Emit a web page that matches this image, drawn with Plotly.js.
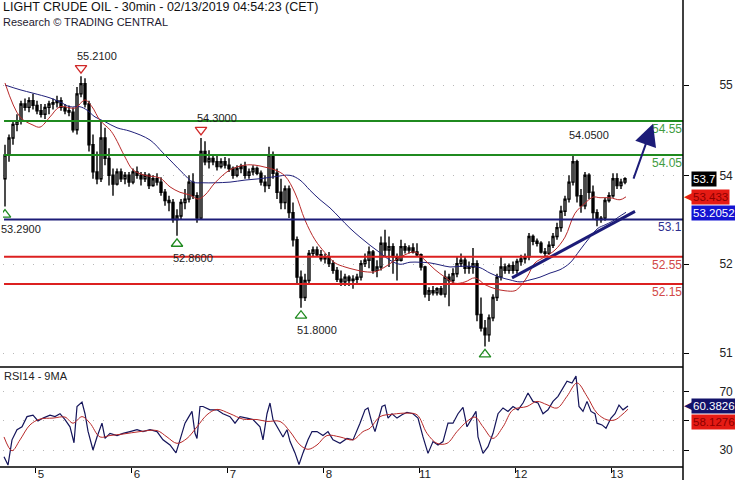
<!DOCTYPE html>
<html><head><meta charset="utf-8">
<script src="https://cdn.plot.ly/plotly-3.0.1.min.js"></script>
<style>html,body{margin:0;padding:0;background:#fff}#chart{width:735px;height:480px}</style>
</head><body><div id="chart"></div>
<script>
// ---------- DATA (hourly bars) ----------
const barOpen = [53.70,54.05,54.30,54.50,54.55,54.80,54.75,54.85,54.78,54.70,54.65,54.75,54.80,54.82,54.85,54.75,54.70,54.68,54.42,54.95,55.10,54.80,54.20,53.80,53.70,54.30,54.00,53.75,53.62,53.80,53.70,53.75,53.65,53.80,53.75,53.70,53.75,53.60,53.70,53.65,53.50,53.38,53.35,53.10,53.15,53.35,53.40,53.65,53.45,53.12,54.10,53.95,54.00,53.95,53.88,53.95,53.90,53.85,53.75,53.85,53.88,53.75,53.80,53.85,53.78,53.65,53.60,54.05,53.78,53.50,53.35,53.55,53.20,52.80,52.25,51.95,52.20,52.60,52.65,52.58,52.52,52.55,52.45,52.35,52.22,52.18,52.25,52.20,52.22,52.25,52.45,52.50,52.62,52.35,52.40,52.75,52.65,52.70,52.55,52.50,52.70,52.65,52.68,52.62,52.58,52.40,52.00,52.05,52.02,52.08,52.00,52.25,52.20,52.30,52.45,52.50,52.38,52.40,52.45,51.70,51.50,51.40,51.65,51.95,52.25,52.40,52.35,52.42,52.35,52.48,52.52,52.55,52.85,52.78,52.75,52.62,52.60,52.72,52.85,52.98,53.22,53.40,53.65,53.95,53.45,53.30,53.75,53.50,53.20,53.10,53.12,53.38,53.45,53.70,53.60,53.65];
const barHigh = [54.20,54.35,54.55,54.65,54.85,54.88,54.90,54.95,54.85,54.80,54.80,54.85,54.88,54.92,54.90,54.80,54.78,54.75,55.05,55.21,55.18,54.85,54.35,54.10,54.55,54.45,54.15,53.85,53.85,53.85,53.80,53.80,53.85,53.88,53.80,53.80,53.78,53.75,53.78,53.72,53.55,53.45,53.40,53.25,53.40,53.55,53.75,53.78,53.50,54.30,54.25,54.12,54.05,54.05,54.00,54.02,54.00,53.88,53.90,53.92,53.95,53.85,53.90,53.88,53.82,53.75,54.17,54.10,53.85,53.70,53.60,53.60,53.35,52.85,52.35,52.30,52.65,52.70,52.70,52.65,52.60,52.62,52.50,52.40,52.35,52.30,52.28,52.28,52.30,52.50,52.60,52.70,52.65,52.50,52.85,52.95,52.85,52.75,52.60,52.80,52.75,52.72,52.75,52.75,52.60,52.42,52.10,52.12,52.10,52.12,52.35,52.30,52.38,52.55,52.60,52.55,52.48,52.68,52.50,51.95,51.62,51.70,52.00,52.30,52.55,52.45,52.45,52.48,52.52,52.58,52.60,52.90,52.88,52.82,52.78,52.68,52.78,52.90,53.05,53.30,53.45,53.75,54.05,53.98,53.55,53.80,53.78,53.60,53.25,53.15,53.42,53.50,53.78,53.78,53.70,53.72];
const barLow = [53.29,53.95,54.20,54.40,54.50,54.70,54.68,54.72,54.65,54.60,54.58,54.65,54.72,54.75,54.70,54.65,54.62,54.38,54.35,54.90,54.75,54.10,53.70,53.62,53.65,53.90,53.60,53.45,53.60,53.65,53.62,53.58,53.62,53.70,53.60,53.65,53.55,53.58,53.60,53.45,53.30,53.22,53.05,52.86,53.10,53.25,53.35,53.40,53.05,53.10,53.90,53.85,53.90,53.82,53.85,53.85,53.80,53.70,53.72,53.78,53.70,53.70,53.75,53.75,53.60,53.50,53.55,53.70,53.40,53.25,53.25,53.12,52.70,52.15,51.80,51.90,52.15,52.55,52.55,52.48,52.45,52.40,52.30,52.18,52.12,52.12,52.12,52.08,52.15,52.20,52.40,52.38,52.30,52.25,52.35,52.55,52.40,52.30,52.20,52.48,52.60,52.60,52.60,52.55,52.35,51.95,51.90,51.98,51.98,51.98,51.95,51.82,52.15,52.25,52.40,52.30,52.30,52.30,51.60,51.45,51.23,51.30,51.60,51.90,52.20,52.30,52.30,52.30,52.30,52.42,52.45,52.50,52.72,52.70,52.60,52.55,52.58,52.68,52.80,52.92,53.15,53.35,53.60,53.35,53.20,53.25,53.40,53.10,53.00,53.05,53.08,53.35,53.42,53.55,53.55,53.62];
const barClose = [54.05,54.30,54.50,54.55,54.80,54.75,54.85,54.78,54.70,54.65,54.75,54.80,54.82,54.85,54.75,54.70,54.68,54.42,54.95,55.10,54.80,54.20,53.80,53.70,54.30,54.00,53.75,53.62,53.80,53.70,53.75,53.65,53.80,53.75,53.70,53.75,53.60,53.70,53.65,53.50,53.38,53.35,53.10,53.15,53.35,53.40,53.65,53.45,53.12,54.10,53.95,54.00,53.95,53.88,53.95,53.90,53.85,53.75,53.85,53.88,53.75,53.80,53.85,53.78,53.65,53.60,54.05,53.78,53.50,53.35,53.55,53.20,52.80,52.25,51.95,52.20,52.60,52.65,52.58,52.52,52.55,52.45,52.35,52.22,52.18,52.25,52.20,52.22,52.25,52.45,52.50,52.62,52.35,52.40,52.75,52.65,52.70,52.55,52.50,52.70,52.65,52.68,52.62,52.58,52.40,52.00,52.05,52.02,52.08,52.00,52.25,52.20,52.30,52.45,52.50,52.38,52.40,52.45,51.70,51.50,51.40,51.65,51.95,52.25,52.40,52.35,52.42,52.35,52.48,52.52,52.55,52.85,52.78,52.75,52.62,52.60,52.72,52.85,52.98,53.22,53.40,53.65,53.95,53.45,53.30,53.75,53.50,53.20,53.10,53.12,53.38,53.45,53.70,53.60,53.65,53.70];

const maFastHour = [0,3.75,7,8.75,11.25,13.75,17.5,20,21.75,23.75,26.25,27.5,30,32,35,38.75,41.25,43.75,46.25,48.25,50,52.5,56.25,60,62.5,65,67.5,70,72.5,75,77.5,80,82.5,85,87.5,90,92.5,95,97.5,100,102.5,105,107.5,110,112.5,115,117.5,120,122.5,125,127.5,128.75,130.5,132.5,135,137.5,140,142.5,145,147,148.75,151.25,153.75,155.25];
const maFast = [55.11,54.61,54.49,54.46,54.61,54.76,54.74,54.86,54.76,54.56,54.42,54.31,54.02,53.83,53.75,53.71,53.58,53.50,53.46,53.40,53.46,53.64,53.83,53.90,53.90,53.87,53.83,53.74,53.49,53.09,52.80,52.61,52.46,52.40,52.36,52.33,52.33,52.40,52.50,52.58,52.62,52.50,52.36,52.25,52.16,52.18,52.24,52.14,52.08,52.05,52.05,52.11,52.25,52.46,52.55,52.65,52.84,53.19,53.34,53.43,53.42,53.42,53.39,53.433];
const maSlowHour = [0,3.75,7,11.25,13.75,16.25,18.75,20.5,22.5,25,28,31.25,36.25,39.5,42,44.5,47,49.5,52.5,56.25,60,63.75,67.5,71.25,73.75,76.25,78.75,81.25,83.75,86.25,88.75,91.25,93.75,96.25,98.75,101.25,103.75,106.25,108.75,111.25,113.75,116.25,118.75,121.25,123.75,126.25,128.75,131.25,133.75,136.25,138.75,141.25,143.75,146.25,148.25,150,151.75,153.5,155.25];
const maSlow = [55.08,55.01,54.96,54.89,54.83,54.76,54.76,54.71,54.61,54.54,54.45,54.40,54.27,54.08,53.93,53.78,53.65,53.64,53.64,53.65,53.68,53.70,53.73,53.75,53.68,53.53,53.39,53.27,53.12,52.97,52.84,52.72,52.61,52.50,52.44,52.47,52.47,52.46,52.43,52.40,52.41,52.41,52.39,52.31,52.25,52.21,52.18,52.21,52.25,52.31,52.36,52.46,52.65,52.84,52.97,53.02,53.07,53.14,53.2052];

const rsiHour = [-0.25,0.75,1.75,3,4.25,5.5,7,8.25,9.5,11.25,12.5,13.75,15,16.25,17.25,18,19.25,20,20.75,22,23,24.25,25,26.25,28,29.5,31.25,33,34.5,36.25,38,39.5,41.25,42.75,43.75,45,45.75,46.75,47.5,48,48.75,49.5,51.25,53,54.5,56.25,57.5,58.75,60.5,62,63.75,64.5,65.5,66.25,67,68.25,69.5,70.5,71.25,72.5,73.5,74.5,75.75,76.75,78,79.5,80.75,82,83.75,85.5,87,88.75,90,90.75,91.75,92.5,93.25,94.25,95,95.75,96.75,98,99.25,100.5,102,103.25,104.5,105.75,107,108.25,109.5,110.75,112,113.25,114.5,115.5,116.75,117.75,118.25,119.5,120.75,122,123.25,124.5,125.75,127,128.25,129.5,130.75,132,133.25,134.5,135.75,137,138.25,139.5,140.5,141.75,142.75,143.5,144.5,145.5,146.5,147.5,148,149.25,150.25,151.5,152.5,153.5,154.5,155.75];
const rsiValue = [25.4,19.6,37,44,46,53,54,50,52,54,53,55,51,46,35,60,63,55,43,30,39,48.5,38,41.5,40,41.5,42.7,44,42.7,44,42.7,37,33.5,28,37,48.5,52,56.6,41.5,38,60,60,57.7,57.7,55,53,48.5,53,52,51,46,37,55,62.4,51,45,39,44,36,28,20,28,37,42.7,42.7,40,42.7,37,34.6,38,37,48.5,57.7,59,48.5,42.7,49.7,60,61,52,55,52,54.3,56,55,52,39,27.7,35.8,33.5,35.8,48.5,48.5,55,59.4,46,52,56.6,39,27.7,32.3,41.5,55,59,56.6,60,57.7,62.4,69.3,63.5,62.4,55,57.7,63.5,67,72.8,77.4,76.2,80.9,60,56.6,63.5,56.6,55,48.5,47.3,45,52,55,61,57.7,60.3826];
const rsiMaHour = [-0.25,1.75,3.75,6.25,8.75,12,15,17,19.25,21.25,23.75,26.25,29.5,33.75,38,40.5,43,45.5,48,50.5,53,56.25,59.5,63,65.5,68.75,71.25,73.75,75.75,78,80.5,83.75,87,89.5,91.25,93.75,97,100.5,103,105.5,108,110.5,113,115.5,117.5,119.5,122,124.5,127,130.5,133,135.5,138,140.5,143,145.5,148,150.5,152.5,154.25,155.75];
const rsiMa = [39,29.5,37,47.3,51.3,52,52.7,48.5,53,48.5,39,40,41,42.7,43.4,39,34.6,38,46,54.3,58,55,51.3,51,49.7,49.7,42.7,33.5,30.5,33.5,40,39,37,42.7,45,53,54.7,55.4,54.3,41.5,34.6,34.6,42.7,49.7,52.7,46,38,46,57.7,60,63.5,61.2,58.9,67,76.2,67,55.4,50.8,50.8,54.3,58.1276];

const levelValues = [54.55, 54.05, 53.1, 52.55, 52.15];
const levelLabels = ["54.55", "54.05", "53.1", "52.55", "52.15"];

const swingHighHour = [19, 49, 142];
const swingHighPrice = [55.21, 54.30, 54.05];
const swingHighLabel = ["55.2100", "54.3000", "54.0500"];
const swingHighMarker = [true, true, false];
const swingLowHour = [0, 43, 74, 120];
const swingLowPrice = [53.29, 52.86, 51.80, 51.23];
const swingLowLabel = ["53.2900", "52.8600", "51.8000", ""];

const trendHour = [126.75, 157.5];
const trendPrice = [52.24, 53.22];
const arrowHour = [157, 162];
const arrowPrice = [53.68, 54.51];

const dayTickHour = [7.5, 31.5, 55.5, 79.5, 103.5, 127.5, 151.5];
const dayTickLabel = ["5", "6", "7", "8", "11", "12", "13"];
const priceTickVals = [55.08, 53.75, 52.44, 51.13];
const priceTickText = ["55", "54", "52", "51"];
const rsiTickVals = [70, 50, 30];
const rsiTickText = ["70", "", "30"];

const lastPrice = 53.7;
const titleText = "LIGHT CRUDE OIL - 30min - 02/13/2019 04:54:23 (CET)";
const subtitleText = "Research © TRADING CENTRAL";

// ---------- LAYOUT CONSTANTS ----------
const FONT = '"Liberation Sans", Arial, sans-serif';
const priceRange = [50.927, 56.332];
const rsiRange = [18.3, 87.2];
const splitY = 100 / 467;                 // RSI panel / main panel boundary
const mainPxH = 367;
const pxUnit = (priceRange[1] - priceRange[0]) / mainPxH;
const barHour = barClose.map((_, i) => i);

const colGreen = '#1f8a1f', colNavy = '#1c1c78', colRed = '#dc2020';
const levelColors = [colGreen, colGreen, colNavy, colRed, colRed];
const levelTextColors = ['#3f9c3f', '#3f9c3f', '#2e2e8e', '#d24848', '#d24848'];

const traces = [
  {type: 'candlestick', x: barHour, open: barOpen, high: barHigh, low: barLow, close: barClose,
   xaxis: 'x', yaxis: 'y', hoverinfo: 'skip', whiskerwidth: 0,
   increasing: {line: {color: '#000', width: 1.4}, fillcolor: '#ffffff'},
   decreasing: {line: {color: '#000', width: 1.4}, fillcolor: '#000000'}},
  {type: 'scatter', mode: 'lines', x: maSlowHour, y: maSlow, line: {color: '#20207a', width: 1, shape: 'spline'}, hoverinfo: 'skip'},
  {type: 'scatter', mode: 'lines', x: maFastHour, y: maFast, line: {color: '#b82a2a', width: 1, shape: 'spline'}, hoverinfo: 'skip'},
  {type: 'scatter', mode: 'lines', x: trendHour, y: trendPrice, line: {color: colNavy, width: 3}, hoverinfo: 'skip'},
  {type: 'scatter', mode: 'markers', x: swingHighHour.filter((_, i) => swingHighMarker[i]),
   y: swingHighPrice.filter((_, i) => swingHighMarker[i]).map(v => v + 8 * pxUnit),
   marker: {symbol: 'triangle-down-open', size: 10, color: '#d02828', line: {width: 1.3}}, hoverinfo: 'skip'},
  {type: 'scatter', mode: 'markers', x: swingLowHour, y: swingLowPrice.map(v => v - 8 * pxUnit),
   marker: {symbol: 'triangle-up-open', size: 10, color: '#1f8a1f', line: {width: 1.3}}, hoverinfo: 'skip'},
  {type: 'scatter', mode: 'lines', x: rsiHour, y: rsiValue, xaxis: 'x', yaxis: 'y2', line: {color: '#14145a', width: 1.2}, hoverinfo: 'skip'},
  {type: 'scatter', mode: 'lines', x: rsiMaHour, y: rsiMa, xaxis: 'x', yaxis: 'y2', line: {color: '#b82a2a', width: 1, shape: 'spline'}, hoverinfo: 'skip'}
];

const shapes = [];
levelValues.forEach((v, i) => shapes.push({type: 'line', xref: 'paper', yref: 'y', x0: 0.0015, x1: 1, y0: v, y1: v,
  line: {color: levelColors[i], width: 2}}));
// panel frame
shapes.push({type: 'line', xref: 'paper', yref: 'paper', x0: -0.005, x1: 1, y0: splitY, y1: splitY, line: {color: '#000', width: 1.5}});
shapes.push({type: 'line', xref: 'paper', yref: 'paper', x0: -0.005, x1: 1, y0: 0, y1: 0, line: {color: '#000', width: 1.5}});
shapes.push({type: 'line', xref: 'paper', yref: 'paper', x0: 1, x1: 1, y0: -0.03, y1: 1.01, line: {color: '#000', width: 1.5}});

const annotations = [];
annotations.push({xref: 'paper', yref: 'paper', x: 0, y: 1, xanchor: 'left', yanchor: 'top', xshift: -2, yshift: 2,
  text: titleText, showarrow: false, font: {family: FONT, size: 12.5, color: '#111'}});
annotations.push({xref: 'paper', yref: 'paper', x: 0, y: 1, xanchor: 'left', yanchor: 'top', xshift: -2, yshift: -14,
  text: subtitleText, showarrow: false, font: {family: FONT, size: 11, color: '#1e1a30'}});
annotations.push({xref: 'paper', yref: 'paper', x: 0, y: splitY, xanchor: 'left', yanchor: 'top', xshift: -1, yshift: -1,
  text: 'RSI14 - 9MA', showarrow: false, font: {family: FONT, size: 11, color: '#222'}});
levelValues.forEach((v, i) => annotations.push({xref: 'paper', yref: 'y', x: 1, y: v, xanchor: 'right', yanchor: 'top',
  text: levelLabels[i], showarrow: false, borderpad: 0, font: {family: FONT, size: 12, color: levelTextColors[i]}}));
swingHighHour.forEach((h, i) => annotations.push({xref: 'x', yref: 'y', x: h, y: swingHighPrice[i], xanchor: 'left', yanchor: 'middle',
  xshift: -6, yshift: 20, text: swingHighLabel[i], showarrow: false, font: {family: FONT, size: 11, color: '#222'}}));
swingLowHour.forEach((h, i) => { if (swingLowLabel[i]) annotations.push({xref: 'x', yref: 'y', x: h, y: swingLowPrice[i], xanchor: 'left', yanchor: 'middle',
  xshift: -6, yshift: -22, text: swingLowLabel[i], showarrow: false, font: {family: FONT, size: 11, color: '#222'}}); });
// forecast arrow
annotations.push({xref: 'x', yref: 'y', axref: 'x', ayref: 'y', x: arrowHour[1], y: arrowPrice[1], ax: arrowHour[0], ay: arrowPrice[0],
  showarrow: true, arrowhead: 2, arrowsize: 2.2, arrowwidth: 2, arrowcolor: colNavy, text: ''});
// right-side value boxes
function valueBox(yref, v, txt, bg, fg, shift, pointer) {
  annotations.push({xref: 'paper', yref: yref, x: 1, y: v, xanchor: 'left', yanchor: 'middle', xshift: 8, yshift: shift || 0,
    text: txt, showarrow: false, bgcolor: bg, borderpad: 1, font: {family: FONT, size: 11.5, color: fg}});
  if (pointer) annotations.push({xref: 'paper', yref: yref, x: 1, y: v, xanchor: 'left', yanchor: 'middle', xshift: 0, yshift: shift || 0,
    text: '◀', showarrow: false, borderpad: 0, font: {family: 'DejaVu Sans', size: 11, color: bg}});
}
valueBox('y', lastPrice, String(lastPrice), '#000000', '#ffffff', 0, false);
valueBox('y', maFast[maFast.length - 1], '53.433', '#e51b14', '#8c0000', 0, true);
valueBox('y', maSlow[maSlow.length - 1], '53.2052', '#1414d2', '#ffffff', -1, false);
valueBox('y2', rsiValue[rsiValue.length - 1], '60.3826', '#12126a', '#ffffff', 0, true);
valueBox('y2', rsiMa[rsiMa.length - 1], '58.1276', '#e51b14', '#8c0000', -13, false);

const layout = {
  width: 735, height: 480, margin: {l: 3, r: 52, t: 0, b: 13}, paper_bgcolor: '#fff', plot_bgcolor: '#fff',
  showlegend: false, font: {family: FONT, size: 12, color: '#222'},
  xaxis: {domain: [0, 1], anchor: 'y2', range: [-0.5, 169.5], tickvals: dayTickHour, ticktext: dayTickLabel,
    ticks: 'outside', ticklen: 5, tickcolor: '#000', tickwidth: 1, showgrid: false, zeroline: false, showline: false,
    ticklabelshift: 6, ticklabelstandoff: -9, tickfont: {family: FONT, size: 11.5, color: '#222'},
    rangeslider: {visible: false}, fixedrange: true},
  yaxis: {domain: [splitY, 1], range: priceRange, side: 'right', tickvals: priceTickVals, ticktext: priceTickText,
    ticks: 'outside', ticklen: 5, tickcolor: '#000', showgrid: true, gridcolor: '#b8b8b8', griddash: '1px,9px',
    zeroline: false, showline: false, ticklabelstandoff: 28, tickfont: {family: FONT, size: 12, color: '#222'}, fixedrange: true},
  yaxis2: {domain: [0, splitY], range: rsiRange, side: 'right', tickvals: rsiTickVals, ticktext: rsiTickText,
    ticks: 'outside', ticklen: 5, tickcolor: '#000', showgrid: true, gridcolor: '#b8b8b8', griddash: '1px,9px',
    zeroline: false, showline: false, ticklabelstandoff: 28, tickfont: {family: FONT, size: 12, color: '#222'}, fixedrange: true},
  shapes: shapes, annotations: annotations
};
Plotly.newPlot('chart', traces, layout, {staticPlot: true, displayModeBar: false});
</script></body></html>
